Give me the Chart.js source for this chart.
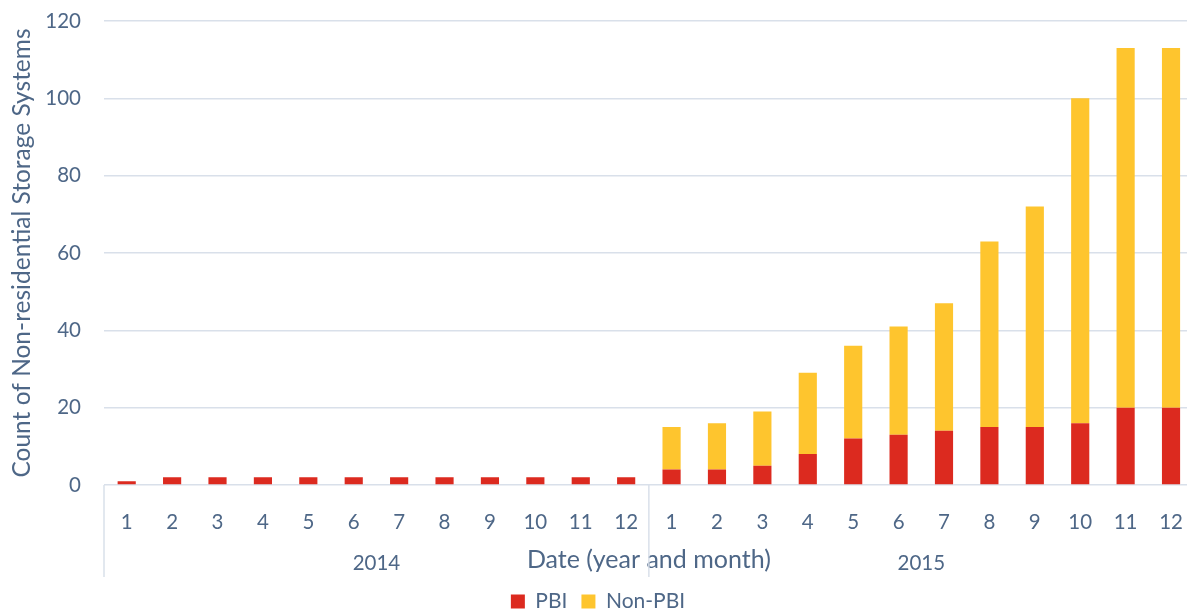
<!DOCTYPE html>
<html>
<head>
<meta charset="utf-8">
<title>Non-residential Storage Systems</title>
<script src="https://cdn.jsdelivr.net/npm/chart.js@4"></script>
<style>
  html, body { margin: 0; padding: 0; overflow: hidden; background: #fff; }
  #wrap { position: relative; width: 1200px; height: 613px; }
</style>
</head>
<body>
<div id="wrap"><canvas id="storageChart"></canvas></div>
<script>
const years = ['2014', '2015'];
const months = ['1', '2', '3', '4', '5', '6', '7', '8', '9', '10', '11', '12'];
const pbi = [1, 2, 2, 2, 2, 2, 2, 2, 2, 2, 2, 2,
             4, 4, 5, 8, 12, 13, 14, 15, 15, 16, 20, 20];
const nonPbi = [0, 0, 0, 0, 0, 0, 0, 0, 0, 0, 0, 0,
                11, 12, 14, 21, 24, 28, 33, 48, 57, 84, 93, 93];
const yTicks = [0, 20, 40, 60, 80, 100, 120];

const textColor = '#4e6787';
const gridColor = '#d9e0ea';
const fontFamily = 'Lato, "Open Sans", sans-serif';

const labels = years.flatMap(() => months);

// year row under the month labels, with separators between the groups
const yearGroups = {
    id: 'yearGroups',
    afterDraw(chart) {
        const ctx = chart.ctx;
        const x = chart.scales.x;
        const area = chart.chartArea;
        const step = (x.right - x.left) / labels.length;
        ctx.save();
        ctx.strokeStyle = gridColor;
        ctx.lineWidth = 1.5;
        for (let i = 0; i <= years.length; i++) {
            const px = x.left + i * months.length * step;
            ctx.beginPath();
            ctx.moveTo(px, area.bottom);
            ctx.lineTo(px, area.bottom + 92);
            ctx.stroke();
        }
        ctx.fillStyle = textColor;
        ctx.font = '20.5px ' + fontFamily;
        ctx.textAlign = 'center';
        ctx.textBaseline = 'middle';
        years.forEach((yr, i) => {
            const cx = x.left + (i + 0.5) * months.length * step;
            ctx.fillText(yr, cx, 563);
        });
        ctx.restore();
    }
};

new Chart(document.getElementById('storageChart'), {
    type: 'bar',
    data: {
        labels: labels,
        datasets: [
            { label: 'PBI', data: pbi, backgroundColor: '#dc2a1f' },
            { label: 'Non-PBI', data: nonPbi, backgroundColor: '#fec52e' }
        ]
    },
    options: {
        responsive: true,
        maintainAspectRatio: false,
        animation: false,
        datasets: { bar: { categoryPercentage: 1, barPercentage: 0.4 } },
        layout: { padding: { top: 21, right: 4, bottom: -9, left: 0 } },
        plugins: {
            legend: {
                position: 'bottom',
                labels: {
                    color: textColor,
                    font: { family: fontFamily, size: 21 },
                    boxWidth: 14,
                    boxHeight: 14,
                    padding: 14
                }
            },
            tooltip: { enabled: false }
        },
        scales: {
            x: {
                stacked: true,
                grid: { display: false },
                border: { display: false },
                ticks: {
                    color: textColor,
                    font: { family: fontFamily, size: 20.5 },
                    padding: 17,
                    maxRotation: 0,
                    autoSkip: false
                },
                title: {
                    display: true,
                    text: 'Date (year and month)',
                    color: textColor,
                    font: { family: fontFamily, size: 25 },
                    padding: { top: 0, bottom: 2 }
                },
                afterFit(scale) { scale.height = 92; }
            },
            y: {
                stacked: true,
                min: 0,
                max: 120,
                afterBuildTicks(scale) { scale.ticks = yTicks.map(v => ({ value: v })); },
                grid: { color: gridColor, lineWidth: 1.5, drawTicks: false },
                border: { display: false },
                ticks: {
                    color: textColor,
                    font: { family: fontFamily, size: 20.5 },
                    padding: 23
                },
                title: {
                    display: true,
                    text: 'Count of Non-residential Storage Systems',
                    color: textColor,
                    font: { family: fontFamily, size: 24.5 },
                    padding: { top: 7, bottom: 0 }
                },
                afterFit(scale) {
                    scale.width = 104;
                    scale.paddingTop = 0;
                    scale.paddingBottom = 0;
                }
            }
        }
    },
    plugins: [yearGroups]
});
</script>
</body>
</html>
